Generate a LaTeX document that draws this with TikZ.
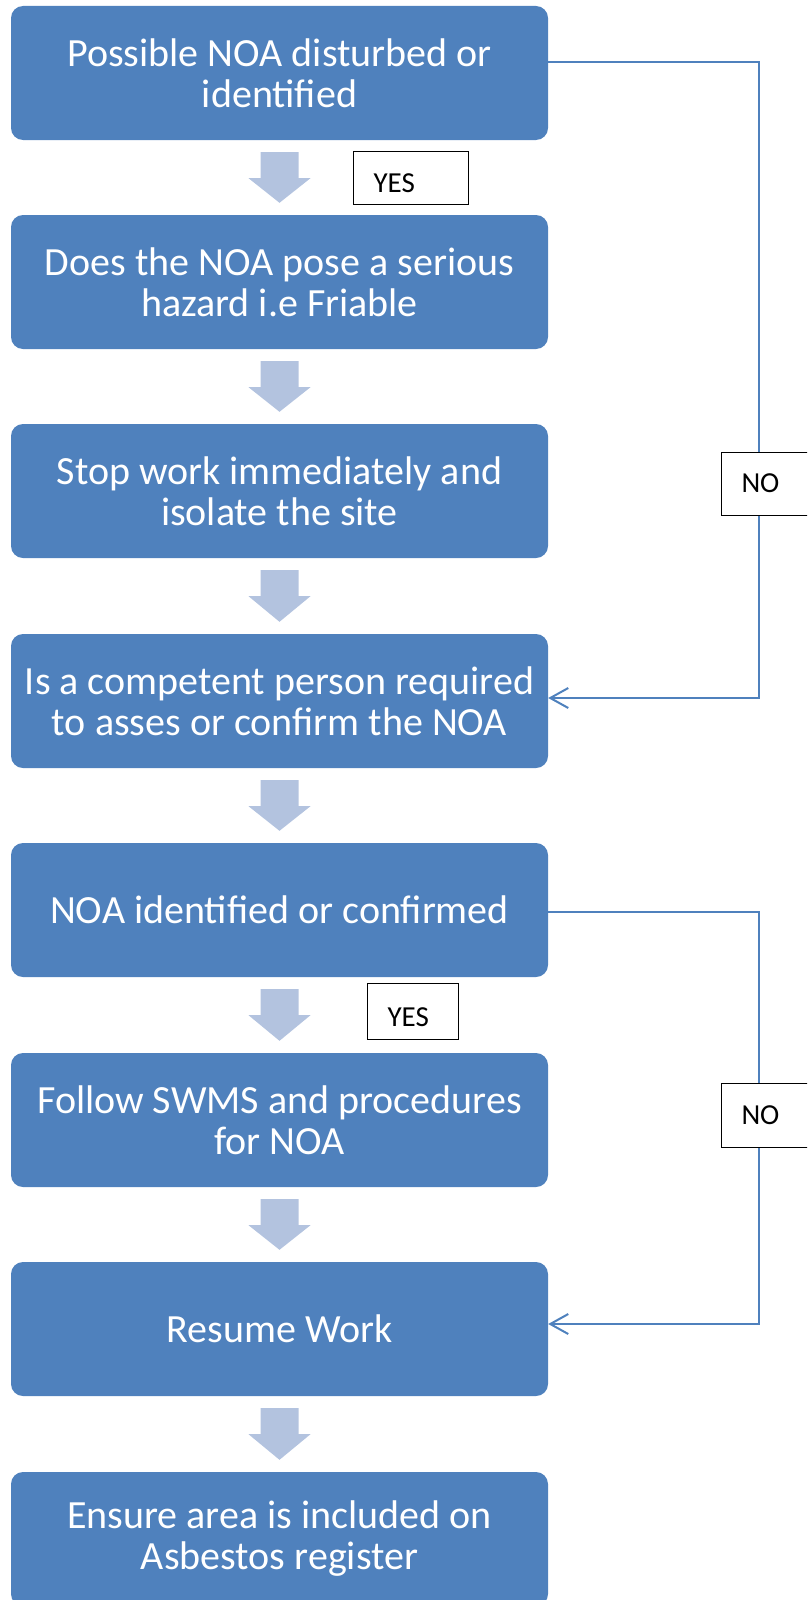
\documentclass[tikz,border=0pt]{standalone}
\usepackage{fontspec}
\setmainfont{Carlito}
\usetikzlibrary{arrows.meta,calc}
\definecolor{boxblue}{RGB}{79,129,189}
\definecolor{arrowblue}{RGB}{179,195,223}
\tikzset{
  stepbox/.style={fill=boxblue, rounded corners=12pt, minimum width=537pt, minimum height=134pt,
    inner sep=0pt, text=white, align=center, font=\fontsize{40}{41}\selectfont},
  answer/.style={draw=black, line width=1pt, fill=white, anchor=west, align=left,
    inner xsep=20pt, inner ysep=0pt, font=\fontsize{29}{30}\selectfont},
  link/.style={draw=boxblue, line width=2pt, -{Straight Barb[length=18pt,width=20pt]}},
}
\begin{document}
\begin{tikzpicture}[x=1pt,y=-1pt]
    \useasboundingbox (0,0) rectangle (807,1600);
    \clip (0,0) rectangle (807,1600);
    % steps
    \node[stepbox] (b1) at (279.5,73) {Possible NOA disturbed or\\identified};
    \node[stepbox] (b2) at (279.5,282) {Does the NOA pose a serious\\hazard i.e Friable};
    \node[stepbox] (b3) at (279.5,491) {Stop work immediately and\\isolate the site};
    \node[stepbox] (b4) at (279.5,701) {Is a competent person required\\to asses or confirm the NOA};
    \node[stepbox] (b5) at (279.5,910) {NOA identified or confirmed};
    \node[stepbox] (b6) at (279.5,1120) {Follow SWMS and procedures\\for NOA};
    \node[stepbox] (b7) at (279.5,1329) {Resume Work};
    \node[stepbox] (b8) at (279.5,1539) {Ensure area is included on\\Asbestos register};
    % block arrows
    \foreach \i/\j in {1/2,2/3,3/4,4/5,5/6,6/7,7/8}
    \fill[arrowblue] ($(b\i.south)+(-19,12)$) -- ($(b\i.south)+(19,12)$) -- ($(b\i.south)+(19,38)$)
        -- ($(b\i.south)+(31,38)$) -- ($(b\j.north)+(0,-12)$) -- ($(b\i.south)+(-31,38)$)
        -- ($(b\i.south)+(-19,38)$) -- cycle;
    % no branches
    \draw[link] ([yshift=11pt]b1.east) -- ++(211,0) |- ([yshift=3pt]b4.east);
    \draw[link] ([yshift=-2pt]b5.east) -- ++(211,0) |- ([yshift=5pt]b7.east);
    % answers
    \node[answer, text width=75pt, minimum height=53pt, text height=30pt, text depth=0pt] (yes1) at (353,177.5) {YES};
    \node[answer, text width=51pt, minimum height=56pt, text height=30pt, text depth=0pt] (yes2) at (367,1011) {YES};
    \node[answer, text width=70pt, minimum height=63pt] (no1) at (721,483.5) {NO};
    \node[answer, text width=70pt, minimum height=64pt] (no2) at (721,1115) {NO};
\end{tikzpicture}
\end{document}
